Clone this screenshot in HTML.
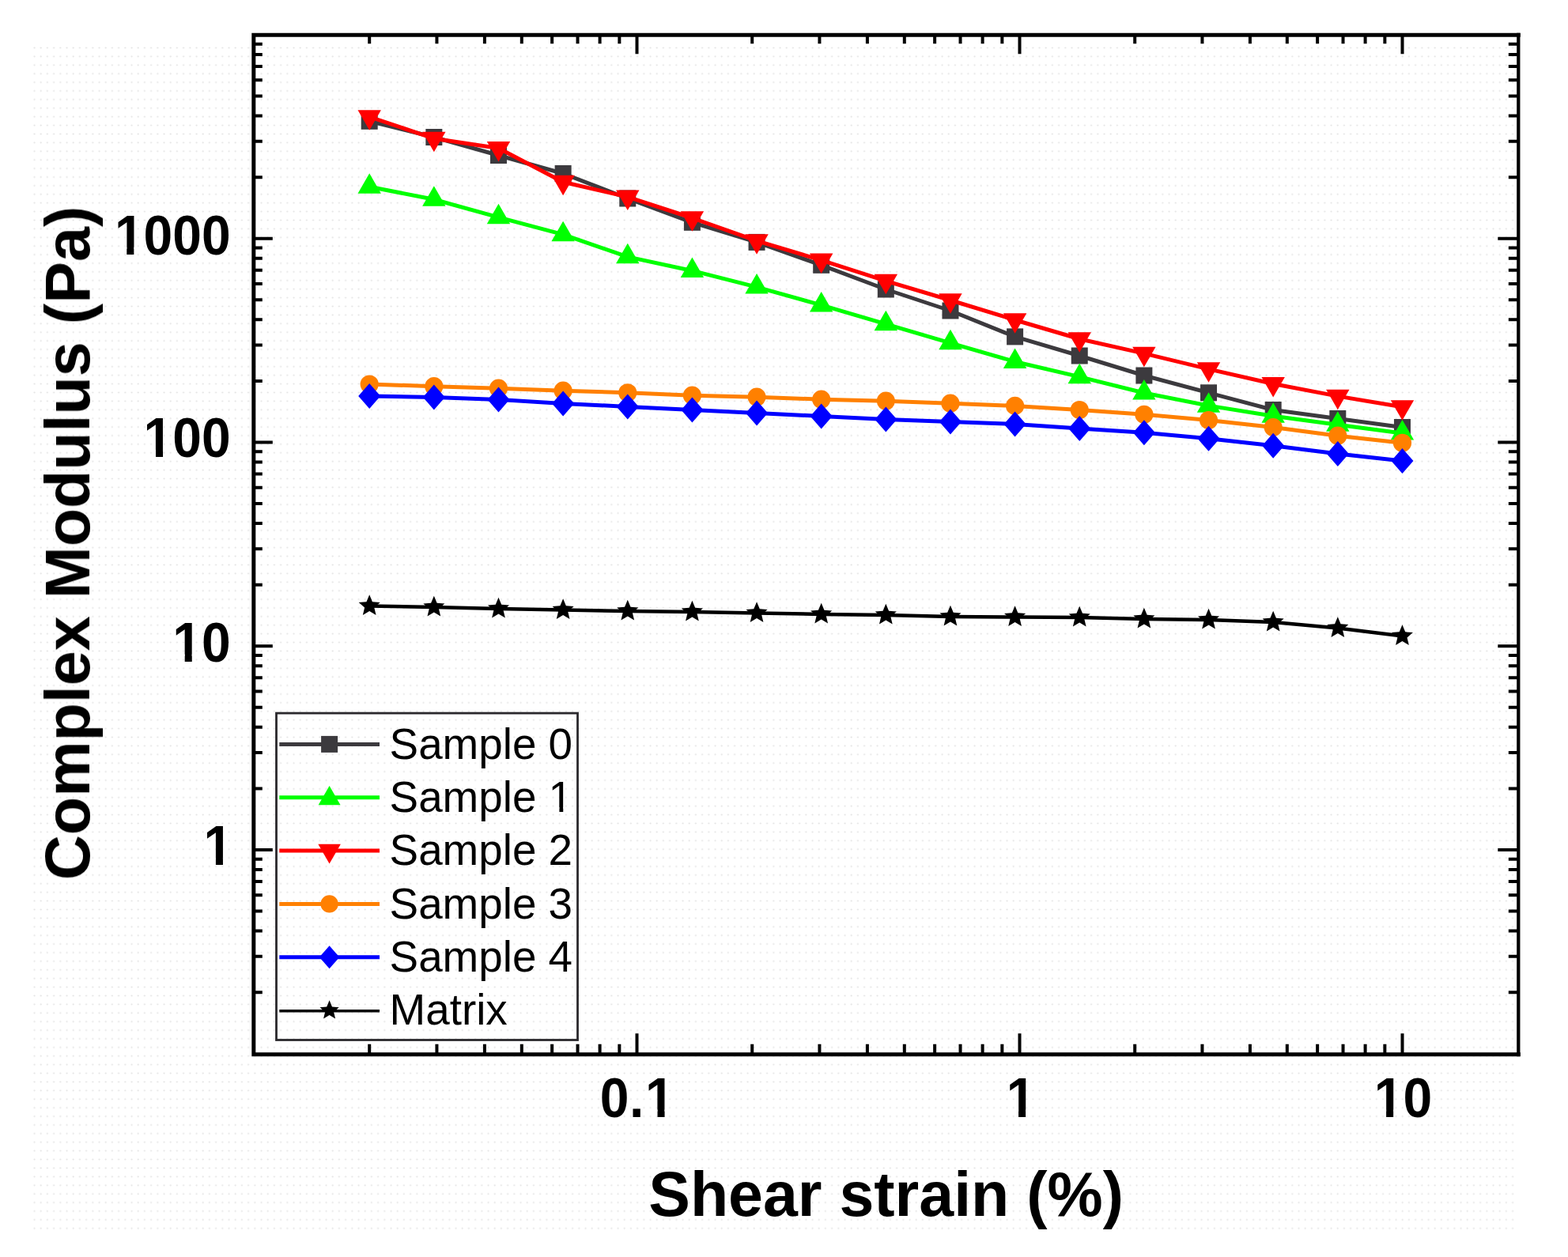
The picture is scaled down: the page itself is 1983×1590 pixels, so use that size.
<!DOCTYPE html><html><head><meta charset="utf-8"><title>Complex Modulus vs Shear strain</title><style>html,body{margin:0;padding:0;background:#fff;}body{width:1983px;height:1590px;overflow:hidden;}svg{display:block;}text{font-family:"Liberation Sans",sans-serif;}</style></head><body>
<svg width="1983" height="1590" viewBox="0 0 1983 1590">
<defs><pattern id="dots" x="42" y="59" width="8.2" height="10.9" patternUnits="userSpaceOnUse"><circle cx="1.5" cy="1.5" r="1.1" fill="#e4e4e4"/></pattern></defs>
<rect width="1983" height="1590" fill="#fff"/>
<rect x="42" y="59" width="1873" height="1500" fill="url(#dots)"/>
<polyline points="467.2,153.3 548.84,173.5 630.48,196.5 712.12,219.5 793.76,251 875.4,281.3 957.04,306.4 1038.68,335.3 1120.32,366 1201.96,393 1283.6,425.9 1365.24,450 1446.88,475 1528.52,496.8 1610.16,518.5 1691.8,529.5 1773.44,540.5" fill="none" stroke="#3c3a3e" stroke-width="5" stroke-linejoin="round"/>
<g><rect x="456.7" y="142.8" width="21" height="21" fill="#3c3a3e"/><rect x="538.34" y="163" width="21" height="21" fill="#3c3a3e"/><rect x="619.98" y="186" width="21" height="21" fill="#3c3a3e"/><rect x="701.62" y="209" width="21" height="21" fill="#3c3a3e"/><rect x="783.26" y="240.5" width="21" height="21" fill="#3c3a3e"/><rect x="864.9" y="270.8" width="21" height="21" fill="#3c3a3e"/><rect x="946.54" y="295.9" width="21" height="21" fill="#3c3a3e"/><rect x="1028.18" y="324.8" width="21" height="21" fill="#3c3a3e"/><rect x="1109.82" y="355.5" width="21" height="21" fill="#3c3a3e"/><rect x="1191.46" y="382.5" width="21" height="21" fill="#3c3a3e"/><rect x="1273.1" y="415.4" width="21" height="21" fill="#3c3a3e"/><rect x="1354.74" y="439.5" width="21" height="21" fill="#3c3a3e"/><rect x="1436.38" y="464.5" width="21" height="21" fill="#3c3a3e"/><rect x="1518.02" y="486.3" width="21" height="21" fill="#3c3a3e"/><rect x="1599.66" y="508" width="21" height="21" fill="#3c3a3e"/><rect x="1681.3" y="519" width="21" height="21" fill="#3c3a3e"/><rect x="1762.94" y="530" width="21" height="21" fill="#3c3a3e"/></g>
<polyline points="467.2,236.25 548.84,252.25 630.48,274.85 712.12,296.65 793.76,324.85 875.4,342.45 957.04,363.05 1038.68,385.95 1120.32,409.85 1201.96,433.85 1283.6,457.45 1365.24,476.65 1446.88,496.95 1528.52,513.15 1610.16,526.25 1691.8,537.35 1773.44,547.95" fill="none" stroke="#00ff00" stroke-width="5" stroke-linejoin="round"/>
<g><polygon points="467.2,219.25 481.9,244.75 452.5,244.75" fill="#00ff00"/><polygon points="548.84,235.25 563.54,260.75 534.14,260.75" fill="#00ff00"/><polygon points="630.48,257.85 645.18,283.35 615.78,283.35" fill="#00ff00"/><polygon points="712.12,279.65 726.82,305.15 697.42,305.15" fill="#00ff00"/><polygon points="793.76,307.85 808.46,333.35 779.06,333.35" fill="#00ff00"/><polygon points="875.4,325.45 890.1,350.95 860.7,350.95" fill="#00ff00"/><polygon points="957.04,346.05 971.74,371.55 942.34,371.55" fill="#00ff00"/><polygon points="1038.68,368.95 1053.38,394.45 1023.98,394.45" fill="#00ff00"/><polygon points="1120.32,392.85 1135.02,418.35 1105.62,418.35" fill="#00ff00"/><polygon points="1201.96,416.85 1216.66,442.35 1187.26,442.35" fill="#00ff00"/><polygon points="1283.6,440.45 1298.3,465.95 1268.9,465.95" fill="#00ff00"/><polygon points="1365.24,459.65 1379.94,485.15 1350.54,485.15" fill="#00ff00"/><polygon points="1446.88,479.95 1461.58,505.45 1432.18,505.45" fill="#00ff00"/><polygon points="1528.52,496.15 1543.22,521.65 1513.82,521.65" fill="#00ff00"/><polygon points="1610.16,509.25 1624.86,534.75 1595.46,534.75" fill="#00ff00"/><polygon points="1691.8,520.35 1706.5,545.85 1677.1,545.85" fill="#00ff00"/><polygon points="1773.44,530.95 1788.14,556.45 1758.74,556.45" fill="#00ff00"/></g>
<polyline points="467.2,147.75 548.84,175.25 630.48,187.45 712.12,230.25 793.76,249.05 875.4,275.75 957.04,304.65 1038.68,329.05 1120.32,355.35 1201.96,379.75 1283.6,404.75 1365.24,428.75 1446.88,447.15 1528.52,466.85 1610.16,485.45 1691.8,501.15 1773.44,514.75" fill="none" stroke="#ff0000" stroke-width="5" stroke-linejoin="round"/>
<g><polygon points="452.5,139.25 481.9,139.25 467.2,164.75" fill="#ff0000"/><polygon points="534.14,166.75 563.54,166.75 548.84,192.25" fill="#ff0000"/><polygon points="615.78,178.95 645.18,178.95 630.48,204.45" fill="#ff0000"/><polygon points="697.42,221.75 726.82,221.75 712.12,247.25" fill="#ff0000"/><polygon points="779.06,240.55 808.46,240.55 793.76,266.05" fill="#ff0000"/><polygon points="860.7,267.25 890.1,267.25 875.4,292.75" fill="#ff0000"/><polygon points="942.34,296.15 971.74,296.15 957.04,321.65" fill="#ff0000"/><polygon points="1023.98,320.55 1053.38,320.55 1038.68,346.05" fill="#ff0000"/><polygon points="1105.62,346.85 1135.02,346.85 1120.32,372.35" fill="#ff0000"/><polygon points="1187.26,371.25 1216.66,371.25 1201.96,396.75" fill="#ff0000"/><polygon points="1268.9,396.25 1298.3,396.25 1283.6,421.75" fill="#ff0000"/><polygon points="1350.54,420.25 1379.94,420.25 1365.24,445.75" fill="#ff0000"/><polygon points="1432.18,438.65 1461.58,438.65 1446.88,464.15" fill="#ff0000"/><polygon points="1513.82,458.35 1543.22,458.35 1528.52,483.85" fill="#ff0000"/><polygon points="1595.46,476.95 1624.86,476.95 1610.16,502.45" fill="#ff0000"/><polygon points="1677.1,492.65 1706.5,492.65 1691.8,518.15" fill="#ff0000"/><polygon points="1758.74,506.25 1788.14,506.25 1773.44,531.75" fill="#ff0000"/></g>
<polyline points="467.2,486 548.84,488.7 630.48,491.2 712.12,494.2 793.76,496.8 875.4,500.2 957.04,502.2 1038.68,505.2 1120.32,507.2 1201.96,510.2 1283.6,513.4 1365.24,518.5 1446.88,524.3 1528.52,531.5 1610.16,540.6 1691.8,551.2 1773.44,560.3" fill="none" stroke="#ff8000" stroke-width="5" stroke-linejoin="round"/>
<g><circle cx="467.2" cy="486" r="11.6" fill="#ff8000"/><circle cx="548.84" cy="488.7" r="11.6" fill="#ff8000"/><circle cx="630.48" cy="491.2" r="11.6" fill="#ff8000"/><circle cx="712.12" cy="494.2" r="11.6" fill="#ff8000"/><circle cx="793.76" cy="496.8" r="11.6" fill="#ff8000"/><circle cx="875.4" cy="500.2" r="11.6" fill="#ff8000"/><circle cx="957.04" cy="502.2" r="11.6" fill="#ff8000"/><circle cx="1038.68" cy="505.2" r="11.6" fill="#ff8000"/><circle cx="1120.32" cy="507.2" r="11.6" fill="#ff8000"/><circle cx="1201.96" cy="510.2" r="11.6" fill="#ff8000"/><circle cx="1283.6" cy="513.4" r="11.6" fill="#ff8000"/><circle cx="1365.24" cy="518.5" r="11.6" fill="#ff8000"/><circle cx="1446.88" cy="524.3" r="11.6" fill="#ff8000"/><circle cx="1528.52" cy="531.5" r="11.6" fill="#ff8000"/><circle cx="1610.16" cy="540.6" r="11.6" fill="#ff8000"/><circle cx="1691.8" cy="551.2" r="11.6" fill="#ff8000"/><circle cx="1773.44" cy="560.3" r="11.6" fill="#ff8000"/></g>
<polyline points="467.2,500.9 548.84,502.4 630.48,505.4 712.12,510.4 793.76,514.4 875.4,518.4 957.04,522.5 1038.68,526.4 1120.32,530.5 1201.96,533.5 1283.6,536.5 1365.24,542 1446.88,547.2 1528.52,554.8 1610.16,563.8 1691.8,573.9 1773.44,583" fill="none" stroke="#0000ff" stroke-width="5" stroke-linejoin="round"/>
<g><polygon points="467.2,484.9 481.2,500.9 467.2,516.9 453.2,500.9" fill="#0000ff"/><polygon points="548.84,486.4 562.84,502.4 548.84,518.4 534.84,502.4" fill="#0000ff"/><polygon points="630.48,489.4 644.48,505.4 630.48,521.4 616.48,505.4" fill="#0000ff"/><polygon points="712.12,494.4 726.12,510.4 712.12,526.4 698.12,510.4" fill="#0000ff"/><polygon points="793.76,498.4 807.76,514.4 793.76,530.4 779.76,514.4" fill="#0000ff"/><polygon points="875.4,502.4 889.4,518.4 875.4,534.4 861.4,518.4" fill="#0000ff"/><polygon points="957.04,506.5 971.04,522.5 957.04,538.5 943.04,522.5" fill="#0000ff"/><polygon points="1038.68,510.4 1052.68,526.4 1038.68,542.4 1024.68,526.4" fill="#0000ff"/><polygon points="1120.32,514.5 1134.32,530.5 1120.32,546.5 1106.32,530.5" fill="#0000ff"/><polygon points="1201.96,517.5 1215.96,533.5 1201.96,549.5 1187.96,533.5" fill="#0000ff"/><polygon points="1283.6,520.5 1297.6,536.5 1283.6,552.5 1269.6,536.5" fill="#0000ff"/><polygon points="1365.24,526 1379.24,542 1365.24,558 1351.24,542" fill="#0000ff"/><polygon points="1446.88,531.2 1460.88,547.2 1446.88,563.2 1432.88,547.2" fill="#0000ff"/><polygon points="1528.52,538.8 1542.52,554.8 1528.52,570.8 1514.52,554.8" fill="#0000ff"/><polygon points="1610.16,547.8 1624.16,563.8 1610.16,579.8 1596.16,563.8" fill="#0000ff"/><polygon points="1691.8,557.9 1705.8,573.9 1691.8,589.9 1677.8,573.9" fill="#0000ff"/><polygon points="1773.44,567 1787.44,583 1773.44,599 1759.44,583" fill="#0000ff"/></g>
<polyline points="467.2,766.5 548.84,768 630.48,770 712.12,771.5 793.76,773 875.4,774 957.04,775.5 1038.68,777 1120.32,778 1201.96,780 1283.6,780.5 1365.24,781 1446.88,783 1528.52,784 1610.16,787 1691.8,794.5 1773.44,804.5" fill="none" stroke="#000000" stroke-width="4.5" stroke-linejoin="round"/>
<g><polygon points="467.2,752.3 470.96,761.33 480.71,762.11 473.28,768.47 475.55,777.99 467.2,772.89 458.85,777.99 461.12,768.47 453.69,762.11 463.44,761.33" fill="#000000"/><polygon points="548.84,753.8 552.6,762.83 562.35,763.61 554.92,769.97 557.19,779.49 548.84,774.39 540.49,779.49 542.76,769.97 535.33,763.61 545.08,762.83" fill="#000000"/><polygon points="630.48,755.8 634.24,764.83 643.99,765.61 636.56,771.97 638.83,781.49 630.48,776.39 622.13,781.49 624.4,771.97 616.97,765.61 626.72,764.83" fill="#000000"/><polygon points="712.12,757.3 715.88,766.33 725.63,767.11 718.2,773.47 720.47,782.99 712.12,777.89 703.77,782.99 706.04,773.47 698.61,767.11 708.36,766.33" fill="#000000"/><polygon points="793.76,758.8 797.52,767.83 807.27,768.61 799.84,774.97 802.11,784.49 793.76,779.39 785.41,784.49 787.68,774.97 780.25,768.61 790,767.83" fill="#000000"/><polygon points="875.4,759.8 879.16,768.83 888.91,769.61 881.48,775.97 883.75,785.49 875.4,780.39 867.05,785.49 869.32,775.97 861.89,769.61 871.64,768.83" fill="#000000"/><polygon points="957.04,761.3 960.8,770.33 970.55,771.11 963.12,777.47 965.39,786.99 957.04,781.89 948.69,786.99 950.96,777.47 943.53,771.11 953.28,770.33" fill="#000000"/><polygon points="1038.68,762.8 1042.44,771.83 1052.19,772.61 1044.76,778.97 1047.03,788.49 1038.68,783.39 1030.33,788.49 1032.6,778.97 1025.17,772.61 1034.92,771.83" fill="#000000"/><polygon points="1120.32,763.8 1124.08,772.83 1133.83,773.61 1126.4,779.97 1128.67,789.49 1120.32,784.39 1111.97,789.49 1114.24,779.97 1106.81,773.61 1116.56,772.83" fill="#000000"/><polygon points="1201.96,765.8 1205.72,774.83 1215.47,775.61 1208.04,781.97 1210.31,791.49 1201.96,786.39 1193.61,791.49 1195.88,781.97 1188.45,775.61 1198.2,774.83" fill="#000000"/><polygon points="1283.6,766.3 1287.36,775.33 1297.11,776.11 1289.68,782.47 1291.95,791.99 1283.6,786.89 1275.25,791.99 1277.52,782.47 1270.09,776.11 1279.84,775.33" fill="#000000"/><polygon points="1365.24,766.8 1369,775.83 1378.75,776.61 1371.32,782.97 1373.59,792.49 1365.24,787.39 1356.89,792.49 1359.16,782.97 1351.73,776.61 1361.48,775.83" fill="#000000"/><polygon points="1446.88,768.8 1450.64,777.83 1460.39,778.61 1452.96,784.97 1455.23,794.49 1446.88,789.39 1438.53,794.49 1440.8,784.97 1433.37,778.61 1443.12,777.83" fill="#000000"/><polygon points="1528.52,769.8 1532.28,778.83 1542.03,779.61 1534.6,785.97 1536.87,795.49 1528.52,790.39 1520.17,795.49 1522.44,785.97 1515.01,779.61 1524.76,778.83" fill="#000000"/><polygon points="1610.16,772.8 1613.92,781.83 1623.67,782.61 1616.24,788.97 1618.51,798.49 1610.16,793.39 1601.81,798.49 1604.08,788.97 1596.65,782.61 1606.4,781.83" fill="#000000"/><polygon points="1691.8,780.3 1695.56,789.33 1705.31,790.11 1697.88,796.47 1700.15,805.99 1691.8,800.89 1683.45,805.99 1685.72,796.47 1678.29,790.11 1688.04,789.33" fill="#000000"/><polygon points="1773.44,790.3 1777.2,799.33 1786.95,800.11 1779.52,806.47 1781.79,815.99 1773.44,810.89 1765.09,815.99 1767.36,806.47 1759.93,800.11 1769.68,799.33" fill="#000000"/></g>
<path d="M1920.3 44.2H320.8V1333.7H1920.3" fill="none" stroke="#000" stroke-width="5" stroke-linecap="square"/>
<path d="M1920.3 41.7V1336.2" fill="none" stroke="#000" stroke-width="4.3"/>
<path d="M467.2 1333.7V1320.7M467.2 44.2V55.2M552.43 1333.7V1320.7M552.43 44.2V55.2M612.9 1333.7V1320.7M612.9 44.2V55.2M659.8 1333.7V1320.7M659.8 44.2V55.2M698.13 1333.7V1320.7M698.13 44.2V55.2M730.53 1333.7V1320.7M730.53 44.2V55.2M758.6 1333.7V1320.7M758.6 44.2V55.2M783.35 1333.7V1320.7M783.35 44.2V55.2M805.5 1333.7V1307.2M805.5 44.2V68.2M951.2 1333.7V1320.7M951.2 44.2V55.2M1036.43 1333.7V1320.7M1036.43 44.2V55.2M1096.9 1333.7V1320.7M1096.9 44.2V55.2M1143.8 1333.7V1320.7M1143.8 44.2V55.2M1182.13 1333.7V1320.7M1182.13 44.2V55.2M1214.53 1333.7V1320.7M1214.53 44.2V55.2M1242.6 1333.7V1320.7M1242.6 44.2V55.2M1267.35 1333.7V1320.7M1267.35 44.2V55.2M1289.5 1333.7V1307.2M1289.5 44.2V68.2M1435.2 1333.7V1320.7M1435.2 44.2V55.2M1520.43 1333.7V1320.7M1520.43 44.2V55.2M1580.9 1333.7V1320.7M1580.9 44.2V55.2M1627.8 1333.7V1320.7M1627.8 44.2V55.2M1666.13 1333.7V1320.7M1666.13 44.2V55.2M1698.53 1333.7V1320.7M1698.53 44.2V55.2M1726.6 1333.7V1320.7M1726.6 44.2V55.2M1751.35 1333.7V1320.7M1751.35 44.2V55.2M1773.5 1333.7V1307.2M1773.5 44.2V68.2M320.8 1255.16H331.8M1920.3 1255.16H1907.8M320.8 1209.77H331.8M1920.3 1209.77H1907.8M320.8 1177.57H331.8M1920.3 1177.57H1907.8M320.8 1152.59H331.8M1920.3 1152.59H1907.8M320.8 1132.18H331.8M1920.3 1132.18H1907.8M320.8 1114.93H331.8M1920.3 1114.93H1907.8M320.8 1099.98H331.8M1920.3 1099.98H1907.8M320.8 1086.79H331.8M1920.3 1086.79H1907.8M320.8 1075H344.8M1920.3 1075H1894.3M320.8 997.41H331.8M1920.3 997.41H1907.8M320.8 952.02H331.8M1920.3 952.02H1907.8M320.8 919.82H331.8M1920.3 919.82H1907.8M320.8 894.84H331.8M1920.3 894.84H1907.8M320.8 874.43H331.8M1920.3 874.43H1907.8M320.8 857.18H331.8M1920.3 857.18H1907.8M320.8 842.23H331.8M1920.3 842.23H1907.8M320.8 829.04H331.8M1920.3 829.04H1907.8M320.8 817.25H344.8M1920.3 817.25H1894.3M320.8 739.66H331.8M1920.3 739.66H1907.8M320.8 694.27H331.8M1920.3 694.27H1907.8M320.8 662.07H331.8M1920.3 662.07H1907.8M320.8 637.09H331.8M1920.3 637.09H1907.8M320.8 616.68H331.8M1920.3 616.68H1907.8M320.8 599.43H331.8M1920.3 599.43H1907.8M320.8 584.48H331.8M1920.3 584.48H1907.8M320.8 571.29H331.8M1920.3 571.29H1907.8M320.8 559.5H344.8M1920.3 559.5H1894.3M320.8 481.91H331.8M1920.3 481.91H1907.8M320.8 436.52H331.8M1920.3 436.52H1907.8M320.8 404.32H331.8M1920.3 404.32H1907.8M320.8 379.34H331.8M1920.3 379.34H1907.8M320.8 358.93H331.8M1920.3 358.93H1907.8M320.8 341.68H331.8M1920.3 341.68H1907.8M320.8 326.73H331.8M1920.3 326.73H1907.8M320.8 313.54H331.8M1920.3 313.54H1907.8M320.8 301.75H344.8M1920.3 301.75H1894.3M320.8 224.16H331.8M1920.3 224.16H1907.8M320.8 178.77H331.8M1920.3 178.77H1907.8M320.8 146.57H331.8M1920.3 146.57H1907.8M320.8 121.59H331.8M1920.3 121.59H1907.8M320.8 101.18H331.8M1920.3 101.18H1907.8M320.8 83.93H331.8M1920.3 83.93H1907.8M320.8 68.98H331.8M1920.3 68.98H1907.8M320.8 55.79H331.8M1920.3 55.79H1907.8" stroke="#000" stroke-width="4" fill="none"/>
<defs><mask id="nofoot" maskUnits="userSpaceOnUse" x="0" y="0" width="1983" height="1590"><rect width="1983" height="1590" fill="#fff"/><g fill="#000"><rect x="148.03" y="312.7" width="12.25" height="10.3"/><rect x="169.34" y="312.7" width="11.39" height="10.3"/><rect x="184.74" y="568.8" width="12.25" height="10.3"/><rect x="206.04" y="568.8" width="11.39" height="10.3"/><rect x="221.45" y="827.6" width="12.25" height="10.3"/><rect x="242.75" y="827.6" width="11.39" height="10.3"/><rect x="260.65" y="1084.6" width="12.25" height="10.3"/><rect x="281.95" y="1084.6" width="11.39" height="10.3"/><rect x="819.26" y="1403.6" width="12.25" height="10.3"/><rect x="840.56" y="1403.6" width="11.39" height="10.3"/><rect x="1275.8" y="1403.6" width="12.25" height="10.3"/><rect x="1297.11" y="1403.6" width="11.39" height="10.3"/><rect x="1740.85" y="1403.6" width="12.25" height="10.3"/><rect x="1762.15" y="1403.6" width="11.39" height="10.3"/><rect x="696.79" y="1021.16" width="10.61" height="7.29"/><rect x="712.24" y="1021.16" width="10.18" height="7.29"/></g></mask></defs>
<g mask="url(#nofoot)">
<text transform="translate(291.7 321.6) scale(1 1.055)" text-anchor="end" style="font-weight:bold;font-size:66px">1000</text>
<text transform="translate(291.7 577.7) scale(1 1.055)" text-anchor="end" style="font-weight:bold;font-size:66px">100</text>
<text transform="translate(291.7 836.5) scale(1 1.055)" text-anchor="end" style="font-weight:bold;font-size:66px">10</text>
<text transform="translate(294.2 1093.5) scale(1 1.055)" text-anchor="end" style="font-weight:bold;font-size:66px">1</text>
<text transform="translate(0 1412.5) scale(1 1.055)" x="758.8 796.1 816.1" style="font-weight:bold;font-size:66px">0.1</text>
<text transform="translate(1291 1412.5) scale(1 1.055)" text-anchor="middle" style="font-weight:bold;font-size:66px">1</text>
<text transform="translate(1774.4 1412.5) scale(1 1.055)" text-anchor="middle" style="font-weight:bold;font-size:66px">10</text>
<text x="820.3" y="1538" style="font-weight:bold;font-size:78.9px">Shear strain (%)</text>
<text transform="translate(113 1113.3) rotate(-90)" style="font-weight:bold;font-size:79.1px">Complex Modulus (Pa)</text>
<rect x="349.5" y="902.1" width="381" height="413.4" fill="none" stroke="#2a282c" stroke-width="2.8"/>
<line x1="353.3" y1="941.4" x2="480" y2="941.4" stroke="#3c3a3e" stroke-width="5"/>
<rect x="406.1" y="930.9" width="21" height="21" fill="#3c3a3e"/>
<text x="492.6" y="959.8" style="font-size:54.8px">Sample 0</text>
<line x1="353.3" y1="1008.75" x2="480" y2="1008.75" stroke="#00ff00" stroke-width="5"/>
<polygon points="416.6,994.1 430.56,1018.33 402.64,1018.33" fill="#00ff00"/>
<text x="492.6" y="1027.05" style="font-size:54.8px">Sample 1</text>
<line x1="353.3" y1="1076.1" x2="480" y2="1076.1" stroke="#ff0000" stroke-width="5"/>
<polygon points="402.34,1067.86 430.86,1067.86 416.6,1092.59" fill="#ff0000"/>
<text x="492.6" y="1094.3" style="font-size:54.8px">Sample 2</text>
<line x1="353.3" y1="1143.45" x2="480" y2="1143.45" stroke="#ff8000" stroke-width="5"/>
<circle cx="416.6" cy="1143.45" r="11.14" fill="#ff8000"/>
<text x="492.6" y="1161.55" style="font-size:54.8px">Sample 3</text>
<line x1="353.3" y1="1210.8" x2="480" y2="1210.8" stroke="#0000ff" stroke-width="5"/>
<polygon points="416.6,1196.24 429.34,1210.8 416.6,1225.36 403.86,1210.8" fill="#0000ff"/>
<text x="492.6" y="1228.8" style="font-size:54.8px">Sample 4</text>
<line x1="353.3" y1="1278.75" x2="480" y2="1278.75" stroke="#000000" stroke-width="3.6"/>
<polygon points="416.6,1265.37 419.98,1273.5 428.75,1274.2 422.07,1279.93 424.11,1288.49 416.6,1283.9 409.09,1288.49 411.13,1279.93 404.45,1274.2 413.22,1273.5" fill="#000000"/>
<text x="492.6" y="1296.05" style="font-size:54.8px">Matrix</text>
</g>
</svg></body></html>
